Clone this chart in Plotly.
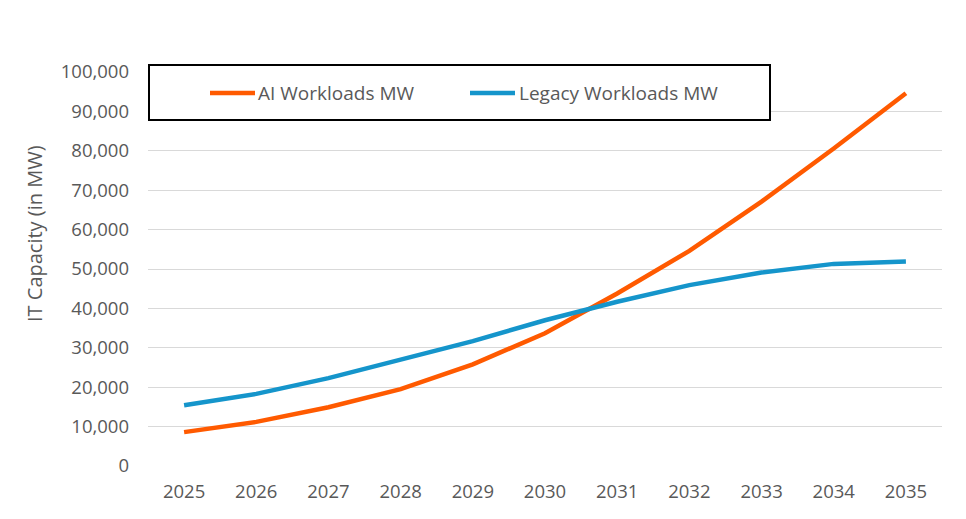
import plotly.graph_objects as go

years = ["2025", "2026", "2027", "2028", "2029", "2030", "2031", "2032", "2033", "2034", "2035"]
ai_mw = [8600, 11200, 14900, 19500, 25800, 33700, 43800, 54600, 67100, 80600, 94600]
legacy_mw = [15400, 18300, 22300, 26900, 31700, 37000, 41700, 45900, 49100, 51300, 51900]
y_ticks = [0, 10000, 20000, 30000, 40000, 50000, 60000, 70000, 80000, 90000, 100000]
series_names = ["AI Workloads MW", "Legacy Workloads MW"]
series_colors = ["#FF5A00", "#1595CB"]
y_title = "IT Capacity (in MW)"

FONT = "Open Sans"
GRAY = "#595959"

# page is offset by 8px body margin; plot area in page px: x 148..942, y 72..466
PL, PR, PT, PB = 148, 942, 72, 466


def px_x(X):
    return (X - PL) / (PR - PL)


def px_y(Y):
    return (PB - Y) / (PB - PT)


fig = go.Figure()
for name, vals, col in zip(series_names, [ai_mw, legacy_mw], series_colors):
    fig.add_trace(go.Scatter(x=years, y=vals, name=name, mode="lines", showlegend=False,
                             line=dict(color=col, width=4.5)))

shapes = [dict(type="rect", xref="paper", yref="paper",
               x0=px_x(149), x1=px_x(770), y0=px_y(120), y1=px_y(65),
               line=dict(color="black", width=2), fillcolor="white", layer="above")]
annotations = []
legend_x = [(210, 255, 256), (470, 515, 517)]
for (lx0, lx1, tx), name, col in zip(legend_x, series_names, series_colors):
    shapes.append(dict(type="line", xref="paper", yref="paper",
                       x0=px_x(lx0), x1=px_x(lx1), y0=px_y(93), y1=px_y(93),
                       line=dict(color=col, width=4.5), layer="above"))
    annotations.append(dict(xref="paper", yref="paper", x=px_x(tx), y=px_y(93),
                            xanchor="left", yanchor="middle", showarrow=False,
                            text=name, font=dict(family=FONT, size=19, color=GRAY)))
annotations.append(dict(xref="paper", yref="paper", x=px_x(34), y=px_y(234),
                        xanchor="center", yanchor="middle", showarrow=False, textangle=-90,
                        text=y_title, font=dict(family=FONT, size=20, color=GRAY)))

fig.update_layout(
    width=958, height=511,
    margin=dict(l=140, r=24, t=64, b=53),
    paper_bgcolor="white", plot_bgcolor="white",
    font=dict(family=FONT, color=GRAY, size=18),
    showlegend=False,
    shapes=shapes,
    annotations=annotations,
)
fig.update_xaxes(type="category", range=[-0.5, 10.5], showgrid=False, showline=False,
                 ticks="", ticklabelstandoff=12, tickfont=dict(size=18.5, color=GRAY))
fig.update_yaxes(range=[0, 100000], tickvals=y_ticks, tickformat=",d", showgrid=True,
                 gridcolor="#d9d9d9", gridwidth=1, zeroline=False, showline=False,
                 ticks="", ticklabelstandoff=18, tickfont=dict(size=18.5, color=GRAY))

fig.write_html("out.html")
